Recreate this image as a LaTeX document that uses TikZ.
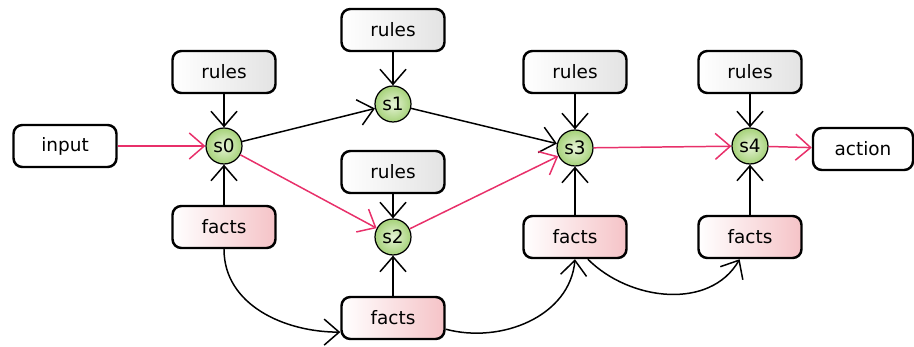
\documentclass[tikz,border=0pt]{standalone}
\usepackage{fontspec}
\setmainfont{DejaVu Sans}
\usetikzlibrary{arrows.meta}
\definecolor{cred}{HTML}{e8306a}
\definecolor{cgreen}{HTML}{a6d27a}
\definecolor{clgreen}{HTML}{e6f3d6}
\definecolor{cpink}{HTML}{f5c3c7}

\begin{document}
\begin{tikzpicture}[
  x=0.02cm,y=-0.02cm,
  >={Straight Barb[length=3mm,width=5.2mm]},
  box/.style={draw,rounded corners=5pt,line width=1.4pt,fill=white,
    minimum width=2.06cm,minimum height=0.84cm,
    font=\fontsize{10.5}{12}\selectfont,inner sep=2pt},
  rules/.style={box,left color=white,right color=gray!22},
  facts/.style={box,left color=white,right color=cpink},
  stnode/.style={circle,draw,line width=0.7pt,inner sep=0pt,minimum size=0.72cm,
    inner color=clgreen,outer color=cgreen,font=\fontsize{10.5}{12}\selectfont},
  flow/.style={->,line width=0.85pt},
  hot/.style={flow,draw=cred}]
  \useasboundingbox (0,0) rectangle (914,347);
  % states
  \node[stnode] (s0) at (224,146) {s0};
  \node[stnode] (s1) at (393,104) {s1};
  \node[stnode] (s2) at (393,237) {s2};
  \node[stnode] (s3) at (575,148) {s3};
  \node[stnode] (s4) at (750,146) {s4};
  % boxes
  \node[box] (in) at (65,146) {input};
  \node[box,minimum width=2cm] (act) at (863,149) {action};
  \node[rules] (r0) at (224,72) {rules};
  \node[rules] (r1) at (393,30) {rules};
  \node[rules] (r2) at (393,172) {rules};
  \node[rules] (r3) at (575,72) {rules};
  \node[rules] (r4) at (750,72) {rules};
  \node[facts] (f0) at (224,227) {facts};
  \node[facts] (f2) at (393,318) {facts};
  \node[facts] (f3) at (575,237) {facts};
  \node[facts] (f4) at (750,237) {facts};
  % rules and facts into the states
  \foreach \r/\s in {r0/s0,r1/s1,r2/s2,r3/s3,r4/s4}
    \draw[flow] (\r) -- (\s);
  \foreach \f/\s in {f0/s0,f2/s2,f3/s3,f4/s4}
    \draw[flow] (\f) -- (\s);
  \draw[flow] (s0) -- (s1);
  \draw[flow] (s1) -- (s3);
  % main path
  \draw[hot] (in) -- (s0);
  \draw[hot] (s0) -- (s2);
  \draw[hot] (s2) -- (s3);
  \draw[hot] (s3) -- (s4);
  \draw[hot] (s4) -- (act);
  % facts passed on
  \draw[flow] (f0.south) to[out=-90,in=180] (f2.195);
  \draw[flow] (f2.-12) to[out=-15,in=-95] (f3.south);
  \draw[flow] (f3.-60) to[out=-45,in=-120] (f4.-115);
\end{tikzpicture}
\end{document}
